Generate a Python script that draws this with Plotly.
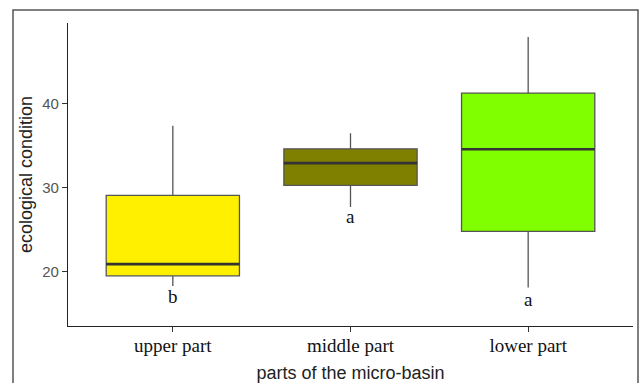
import plotly.graph_objects as go

categories = ["upper part", "middle part", "lower part"]
positions = [1, 2, 3]
lower_fence = [18.3, 27.7, 18.1]
q1_vals = [19.5, 30.3, 24.8]
median_vals = [20.9, 32.95, 34.6]
q3_vals = [29.1, 34.65, 41.3]
upper_fence = [37.4, 36.5, 48.0]
group_letters = ["b", "a", "a"]
letter_y = [17.0, 26.6, 16.7]
fill_colors = ["#FFF000", "#808000", "#80FF00"]

BOX_W = 0.75

fig = go.Figure()
for pos, lf, q1, md, q3, uf, col in zip(positions, lower_fence, q1_vals, median_vals,
                                          q3_vals, upper_fence, fill_colors):
    fig.add_trace(go.Box(
        x=[pos], q1=[q1], median=[md], q3=[q3], lowerfence=[lf], upperfence=[uf],
        width=BOX_W, whiskerwidth=0, fillcolor=col,
        line=dict(color="#555555", width=1.3), boxpoints=False, showlegend=False,
    ))
    fig.add_trace(go.Scatter(
        x=[pos - BOX_W / 2, pos + BOX_W / 2], y=[md, md], mode="lines",
        line=dict(color="#333333", width=2.6), showlegend=False, hoverinfo="skip",
    ))

for pos, letter, ly in zip(positions, group_letters, letter_y):
    fig.add_annotation(x=pos, y=ly, text=letter, showarrow=False,
                       font=dict(family="Liberation Serif", size=19, color="#111111"))

# outer frame
fig.add_shape(type="rect", xref="paper", yref="paper",
              x0=(13 - 68) / 565, x1=(638 - 68) / 565,
              y0=-0.3, y1=(326 - 10) / 303,
              line=dict(color="#555555", width=1.5), fillcolor="rgba(0,0,0,0)")

fig.update_layout(
    width=643, height=383,
    margin=dict(l=68, r=10, t=23, b=57),
    paper_bgcolor="white", plot_bgcolor="white",
    xaxis=dict(
        range=[0.41, 3.59], tickvals=positions, ticktext=categories,
        automargin=False, ticklabelstandoff=-3,
        showline=True, linecolor="#222222", linewidth=1.2,
        ticks="outside", ticklen=5, tickcolor="#333333", tickwidth=1,
        showgrid=False, zeroline=False,
        tickfont=dict(family="Liberation Serif", size=19, color="#111111"),
        title=dict(text="parts of the micro-basin", standoff=14,
                   font=dict(family="Liberation Sans", size=18, color="#222222")),
    ),
    yaxis=dict(
        range=[13.52, 49.66], tickvals=[20, 30, 40],
        automargin=False,
        showline=True, linecolor="#222222", linewidth=1.2,
        ticks="outside", ticklen=5, tickcolor="#333333", tickwidth=1,
        showgrid=False, zeroline=False,
        tickfont=dict(family="Liberation Sans", size=15, color="#555555"),
        title=dict(text="ecological condition", standoff=4,
                   font=dict(family="Liberation Sans", size=18, color="#222222")),
    ),
)

fig.write_html("out.html")
